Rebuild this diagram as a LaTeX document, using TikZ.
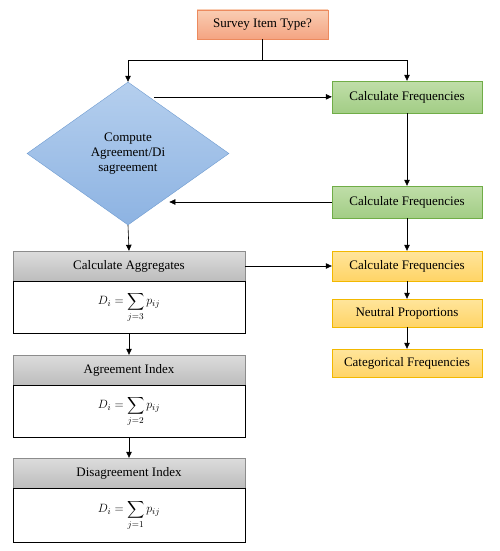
\documentclass[tikz,border=0pt]{standalone}
\usepackage{fontspec}
\setmainfont{Liberation Serif}
\usepackage{amsmath}
\usetikzlibrary{calc,positioning,arrows.meta,shapes.geometric}
\definecolor{salmonL}{HTML}{F9CDB3}
\definecolor{salmonD}{HTML}{F4A482}
\definecolor{salmonE}{HTML}{EC8A5E}
\definecolor{greenL}{HTML}{C0DEA9}
\definecolor{greenD}{HTML}{A2CD85}
\definecolor{greenE}{HTML}{70AD47}
\definecolor{blueL}{HTML}{B5CFEE}
\definecolor{blueD}{HTML}{8DB3E2}
\definecolor{blueE}{HTML}{6E9BD0}
\definecolor{grayL}{HTML}{DCDCDC}
\definecolor{grayD}{HTML}{BDBDBD}
\definecolor{grayE}{HTML}{8C8C8C}
\definecolor{yellowL}{HTML}{FFE59C}
\definecolor{yellowD}{HTML}{FFD466}
\definecolor{yellowE}{HTML}{F2B800}
\tikzset{
  wire/.style={line width=0.6pt},
  flow/.style={wire, -{Triangle[length=6pt,width=5.5pt]}},
  txt/.style={font=\fontsize{13}{15}\selectfont, inner sep=2pt},
  startbox/.style={txt, draw=salmonE, top color=salmonL, bottom color=salmonD, minimum width=131pt, minimum height=29pt},
  decide/.style={txt, diamond, draw=blueE, top color=blueL, bottom color=blueD, aspect=1.41, inner sep=0pt, minimum width=202pt, minimum height=143pt, align=center},
  freqbox/.style={txt, draw=greenE, top color=greenL, bottom color=greenD, minimum width=150pt, minimum height=32pt},
  catbox/.style={txt, draw=yellowE, top color=yellowL, bottom color=yellowD, minimum width=150pt, minimum height=28pt},
  headbox/.style={txt, draw=grayE, top color=grayL, bottom color=grayD, minimum width=232pt, minimum height=30pt},
  formbox/.style={txt, draw=black, fill=white, minimum width=232pt, minimum height=52pt}
}
\begin{document}
\begin{tikzpicture}[x=1pt,y=-1pt]
  \useasboundingbox (0,0) rectangle (499,551);
  \node[startbox] (survey) at (262.5,24.5) {Survey Item Type?};
  \node[decide] (compute) at (128,153.5) {Compute\\Agreement/Di\\sagreement};
  \node[freqbox] (freqA) at (407,97) {Calculate Frequencies};
  \node[freqbox] (freqB) at (407,202) {Calculate Frequencies};
  \node[catbox, minimum height=30pt] (freqC) at (407,266) {Calculate Frequencies};
  \node[catbox] (neutral) at (407,313) {Neutral Proportions};
  \node[catbox] (categ) at (407,363) {Categorical Frequencies};
  \node[headbox] (aggr) at (129,266) {Calculate Aggregates};
  \node[formbox, below=0pt of aggr] (aggrF) {$D_i = \displaystyle\sum_{j=3} p_{ij}$};
  \node[headbox] (agree) at (129,370) {Agreement Index};
  \node[formbox, below=0pt of agree] (agreeF) {$D_i = \displaystyle\sum_{j=2} p_{ij}$};
  \node[headbox] (disag) at (129,473) {Disagreement Index};
  \node[formbox, below=0pt of disag, minimum height=54pt] (disagF) {$D_i = \displaystyle\sum_{j=1} p_{ij}$};

  % branching from the top box
  \coordinate (split) at (262.5,60);
  \draw[wire] (survey) -- (split);
  \draw[flow] (split) -| (compute.north);
  \draw[flow] (split) -| (freqA.north);

  % diamond side links
  \coordinate (outA) at ($(compute.north)!0.21!(compute.east)$);
  \coordinate (inB) at ($(compute.south)!0.32!(compute.east)$);
  \draw[flow, shorten <=5pt] (outA) -- (outA -| freqA.west);
  \draw[flow, shorten >=9pt] (freqB.west) -- (freqB.west -| inB);

  \draw[flow] (freqA) -- (freqB);
  \draw[flow] (freqB) -- (freqC);
  \draw[flow] (freqC) -- (neutral);
  \draw[flow] (neutral) -- (categ);
  \draw[flow] (compute.south) -- (aggr.north);
  \draw[flow] (aggr.east) -- (freqC.west);
  \draw[flow] (aggrF.south) -- (agree.north);
  \draw[flow] (agreeF.south) -- (disag.north);
\end{tikzpicture}
\end{document}
